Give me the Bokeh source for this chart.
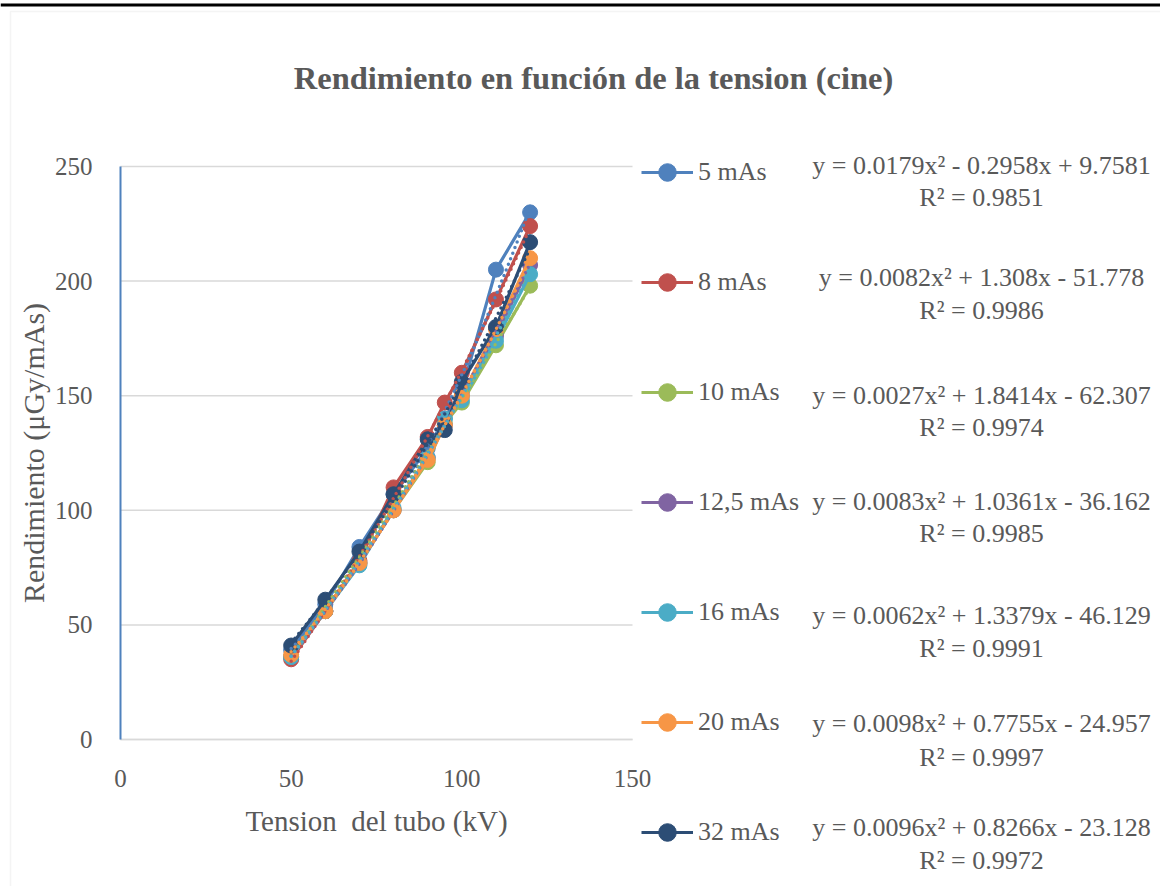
import numpy as np
from bokeh.plotting import figure
from bokeh.models import (Range1d, Legend, LegendItem, Label, BoxAnnotation,
                          FixedTicker)
from bokeh.embed import file_html
from bokeh.resources import INLINE

# ---------------- data ----------------
kv = [50, 60, 70, 80, 90, 95, 100, 110, 120]

names = ["5 mAs", "8 mAs", "10 mAs", "12,5 mAs", "16 mAs", "20 mAs", "32 mAs"]

y_5 = [39, 59, 84, 107, 127, 140, 152, 205, 230]
y_8 = [35, 56, 78, 110, 132, 147, 160, 192, 224]
y_10 = [36, 56, 77, 100, 121, 138, 147, 172, 198]
y_12_5 = [36, 56, 77, 100, 123, 137, 150, 176, 207]
y_16 = [36, 56, 76, 101, 123, 140, 148, 174, 203]
y_20 = [37, 56, 77, 100, 122, 137, 150, 179, 210]
y_32 = [41, 61, 82, 107, 131, 135, 156, 180, 217]
series = [y_5, y_8, y_10, y_12_5, y_16, y_20, y_32]

# polynomial trendline coefficients shown on the chart (a x^2 + b x + c)
coef_a = [0.0179, 0.0082, 0.0027, 0.0083, 0.0062, 0.0098, 0.0096]
coef_b = [-0.2958, 1.308, 1.8414, 1.0361, 1.3379, 0.7755, 0.8266]
coef_c = [9.7581, -51.778, -62.307, -36.162, -46.129, -24.957, -23.128]
r2 = ["0.9851", "0.9986", "0.9974", "0.9985", "0.9991", "0.9997", "0.9972"]

colors = ["#4F81BD", "#C0504D", "#9BBB59", "#8064A2", "#4BACC6", "#F79646", "#2C4D75"]

x_ticks = [0, 50, 100, 150]
y_ticks = [0, 50, 100, 150, 200, 250]

title_text = "Rendimiento en función de la tension (cine)"
x_label = "Tension\u00a0 del tubo (kV)"
y_label = "Rendimiento (μGy/mAs)"

# ---------------- layout constants (pixels) ----------------
FONT = "Liberation Serif"
TXT = "#595959"
W, H = 1160, 886
FL, FR, FT, FB = 120, 632, 166, 739  # plot-area edges on the canvas

# the frame covers the whole canvas; data ranges chosen so the plot area
# (0..150, 0..250) lands on FL..FR / FB..FT
xs = (FR - FL) / (x_ticks[-1] - x_ticks[0])
ys = (FB - FT) / (y_ticks[-1] - y_ticks[0])
x0 = x_ticks[0] - FL / xs
y0 = y_ticks[0] - (H - FB) / ys

p = figure(width=W, height=H,
           x_range=Range1d(x0, x0 + W / xs), y_range=Range1d(y0, y0 + H / ys),
           min_border=0, output_backend="svg", toolbar_location=None)
p.title.visible = False
p.outline_line_color = None
p.background_fill_color = "white"
p.border_fill_color = "white"
p.xgrid.visible = False
p.ygrid.visible = False

# axes fixed at the data origin (they take no panel space)
xa, ya = p.xaxis[0], p.yaxis[0]
xa.fixed_location = 0
ya.fixed_location = 0
xa.bounds = (x_ticks[0], x_ticks[-1])
ya.bounds = (y_ticks[0], y_ticks[-1])
for ax in (xa, ya):
    ax.major_tick_line_color = None
    ax.minor_tick_line_color = None
    ax.major_label_text_font = FONT
    ax.major_label_text_font_size = "25px"
    ax.major_label_text_color = TXT
    ax.axis_label_text_font = FONT
    ax.axis_label_text_font_style = "normal"
    ax.axis_label_text_color = TXT
xa.axis_label_text_font_size = "29px"
ya.axis_label_text_font_size = "30px"
xa.ticker = FixedTicker(ticks=x_ticks)
ya.ticker = FixedTicker(ticks=y_ticks)
xa.axis_line_color = "#d9d9d9"
xa.axis_line_width = 1.5
ya.axis_line_color = "#4F81BD"
ya.axis_line_width = 2
xa.major_label_standoff = 24
ya.major_label_standoff = 22
xa.axis_label = x_label
ya.axis_label = y_label
xa.axis_label_standoff = 15
ya.axis_label_standoff = 2

# horizontal gridlines over the plot area only
p.segment(x0=[x_ticks[0]] * len(y_ticks), y0=y_ticks,
          x1=[x_ticks[-1]] * len(y_ticks), y1=y_ticks,
          line_color="#d9d9d9", line_width=1.5)

# ---------------- series ----------------
items = []
for name, yv, col in zip(names, series, colors):
    lr = p.line(kv, yv, line_color=col, line_width=3.2)
    sr = p.scatter(kv, yv, size=15, fill_color=col, line_color=col, marker="circle")
    items.append(LegendItem(label=name, renderers=[lr, sr]))

# trendlines (dotted polynomial fits)
xt = np.linspace(min(kv), max(kv), 141)
for a, b, c, col in zip(coef_a, coef_b, coef_c, colors):
    p.line(xt, a * xt ** 2 + b * xt + c, line_color=col, line_width=3.5,
           line_dash="0 6", line_cap="round")

legend = Legend(items=items, location=(641, H - 854), orientation="vertical",
                glyph_width=52, glyph_height=44, label_height=44, spacing=66,
                padding=0, margin=0, label_standoff=5,
                label_text_font=FONT, label_text_font_size="26px",
                label_text_color=TXT, border_line_alpha=0,
                background_fill_alpha=0)
p.add_layout(legend, "center")

# equations
eq_y1 = [165, 277, 395, 501, 615, 723, 827]
eq_y2 = [197, 310, 427, 533, 648, 757, 860]


def fmt(v):
    return f"{abs(v):g}"


for a, b, c, r, y1, y2 in zip(coef_a, coef_b, coef_c, r2, eq_y1, eq_y2):
    s = (f"y = {fmt(a)}x² {'+' if b >= 0 else '-'} {fmt(b)}x "
         f"{'+' if c >= 0 else '-'} {fmt(c)}")
    p.add_layout(Label(x=981, y=H - y1, x_units="screen", y_units="screen",
                       text=s, text_align="center", text_baseline="middle",
                       text_font=FONT, text_font_size="26px", text_color=TXT))
    p.add_layout(Label(x=981, y=H - y2, x_units="screen", y_units="screen",
                       text=f"R² = {r}", text_align="center", text_baseline="middle",
                       text_font=FONT, text_font_size="26px", text_color=TXT))

# title
p.add_layout(Label(x=593, y=H - 77, x_units="screen", y_units="screen",
                   text=title_text, text_align="center", text_baseline="middle",
                   text_font=FONT, text_font_size="32.5px", text_font_style="bold",
                   text_color=TXT))

# decorations: top black rule and light chart-area border
p.add_layout(BoxAnnotation(left=0, right=W, top=H - 3, bottom=H - 6,
                           left_units="screen", right_units="screen",
                           top_units="screen", bottom_units="screen",
                           fill_color="black", fill_alpha=1, line_color=None))
p.add_layout(BoxAnnotation(left=10, right=W + 10, top=H - 11, bottom=-10,
                           left_units="screen", right_units="screen",
                           top_units="screen", bottom_units="screen",
                           fill_alpha=0, line_color="#d9d9d9", line_width=1.5))

open("out.html", "w").write(file_html(p, INLINE))
